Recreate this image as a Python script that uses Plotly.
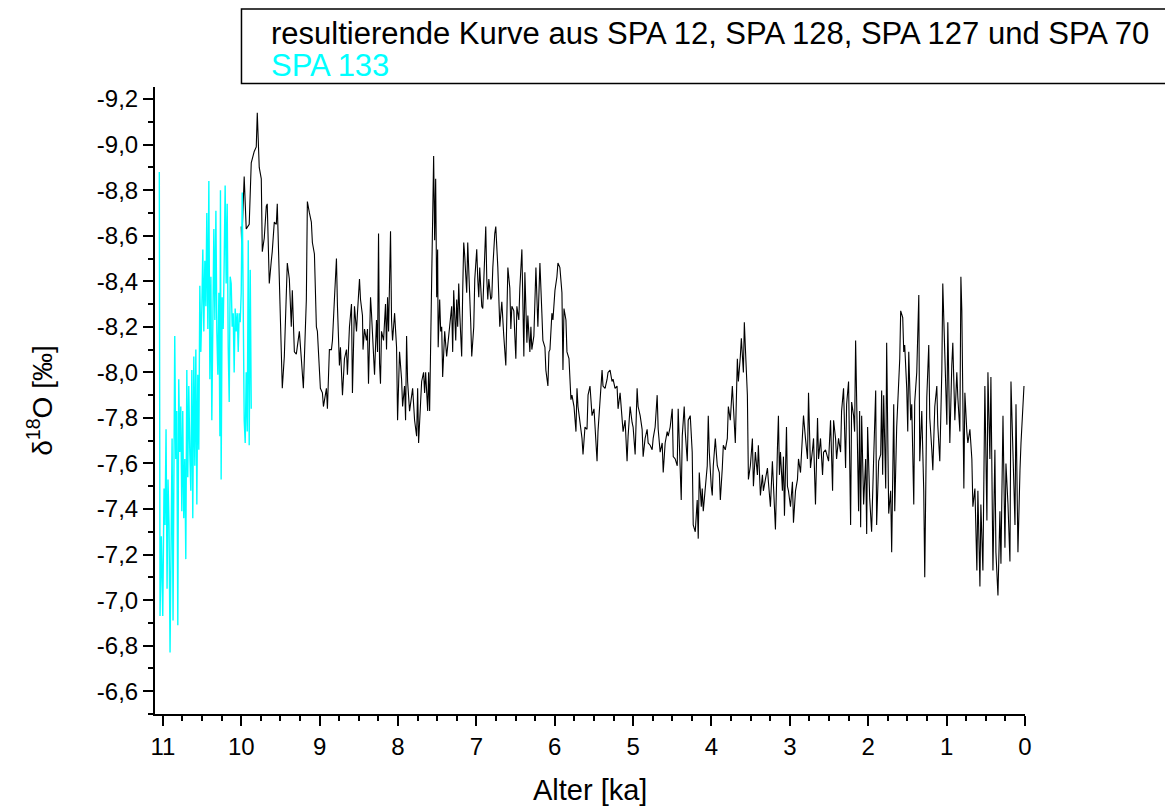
import plotly.graph_objects as go

# ---- resultierende Kurve (SPA 12, SPA 128, SPA 127, SPA 70): age [ka], d18O [permil]
black_age = [
10.000,9.994,9.962,9.936,9.898,9.872,9.834,9.808,9.795,9.770,9.744,9.731,9.706,9.680,9.668,9.642,9.616,9.604,9.578,9.552,
9.540,9.488,9.476,9.450,9.425,9.412,9.386,9.361,9.348,9.322,9.297,9.258,9.233,9.207,9.169,9.156,9.130,9.105,9.092,9.066,
9.041,9.028,8.990,8.964,8.951,8.913,8.900,8.875,8.849,8.836,8.811,8.785,8.772,8.747,8.734,8.708,8.683,8.657,8.645,8.619,
8.593,8.581,8.555,8.529,8.517,8.491,8.478,8.453,8.446,8.427,8.402,8.389,8.376,8.350,8.338,8.312,8.299,8.274,8.261,8.248,
8.235,8.223,8.210,8.184,8.159,8.146,8.133,8.120,8.107,8.095,8.082,8.069,8.043,8.018,8.005,7.980,7.954,7.941,7.916,7.903,
7.890,7.877,7.852,7.826,7.813,7.788,7.762,7.749,7.737,7.711,7.698,7.673,7.660,7.647,7.621,7.609,7.596,
7.570,7.558,7.545,7.532,7.519,7.506,7.494,7.487,7.468,7.455,7.442,7.430,7.404,7.379,7.366,7.340,7.315,7.302,7.289,7.263,
7.251,7.238,7.225,7.212,7.187,7.174,7.161,7.148,7.123,7.110,7.097,7.084,7.072,7.059,7.033,7.020,6.995,6.982,6.969,6.957,
6.931,6.918,6.905,6.880,6.867,6.854,6.841,6.816,6.803,6.790,6.765,6.752,6.726,6.714,6.701,6.675,6.662,6.650,6.624,6.611,
6.598,6.573,6.560,6.547,6.522,6.509,6.496,6.483,6.458,6.445,6.419,6.394,6.381,6.355,6.343,6.317,6.304,6.292,6.266,6.253,
6.240,6.215,6.202,6.189,6.164,6.151,6.125,6.113,6.087,6.074,6.061,6.036,6.023,5.997,5.972,5.959,5.934,5.908,5.895,5.882,
5.857,5.844,5.818,5.793,5.780,5.754,5.729,5.716,5.703,5.678,5.652,5.639,5.614,5.588,5.575,5.550,5.537,5.524,5.499,5.486,
5.460,5.448,5.422,5.396,5.384,5.358,5.332,5.320,5.294,5.269,5.256,5.230,5.205,5.192,5.166,
5.128,5.102,5.077,5.064,5.038,5.013,5.000,4.974,4.949,4.936,4.910,4.885,4.872,4.847,4.821,4.808,4.783,4.757,4.744,4.719,
4.693,4.680,4.655,4.629,4.616,4.591,4.565,4.552,4.527,4.501,4.488,4.463,4.437,4.425,4.412,4.386,4.373,4.348,4.335,4.309,
4.297,4.271,4.246,4.233,4.207,4.182,4.169,4.156,4.130,4.118,4.105,4.079,4.054,4.041,4.028,4.003,3.990,3.977,3.951,3.939,
3.926,3.900,3.887,3.862,3.849,3.824,3.798,3.785,3.760,3.734,3.721,3.696,3.670,3.657,3.632,3.619,3.593,3.581,3.568,3.542,
3.529,3.504,3.478,3.465,3.440,3.414,3.402,3.376,3.350,3.338,3.312,3.286,3.274,3.248,3.223,3.210,3.184,3.159,3.146,3.133,
3.120,3.095,3.082,3.069,3.043,3.031,3.018,2.992,2.967,2.954,2.928,2.903,2.890,2.864,2.839,2.826,2.801,2.775,2.762,2.737,
2.711,2.698,
2.673,2.647,2.634,2.609,2.583,2.570,2.545,2.519,2.506,2.481,2.455,2.442,2.417,2.404,2.379,2.353,2.340,2.315,2.289,2.276,
2.251,2.225,2.212,2.187,2.174,2.161,2.136,2.123,2.110,2.097,2.084,2.059,2.033,2.020,2.008,1.982,1.957,1.944,1.931,1.905,
1.893,1.867,1.841,1.829,1.816,1.803,1.777,1.765,1.739,1.714,1.701,1.675,1.662,1.637,1.611,1.598,1.586,1.560,1.547,1.535,
1.509,1.496,1.483,1.458,1.445,1.419,1.407,1.381,1.355,1.343,1.317,1.292,1.279,1.253,1.228,1.215,1.189,1.176,1.151,1.125,
1.113,1.087,1.061,1.049,1.023,0.997,0.985,0.959,0.934,0.921,0.895,0.870,0.857,0.831,0.818,0.806,0.780,0.767,0.742,0.729,
0.703,0.678,0.665,0.639,0.614,0.601,0.575,0.563,0.537,0.512,0.486,0.473,0.448,0.435,0.409,0.384,0.371,0.345,0.320,0.307,
0.281,0.256,0.243,0.217,0.192,0.179,0.153,0.128,0.115,0.090,0.064,0.051,0.013,
]
black_d18o = [
-8.64,-8.56,-8.86,-8.63,-8.65,-8.92,-8.97,-8.99,-9.14,-8.90,-8.85,-8.53,-8.59,-8.73,-8.74,-8.39,-8.49,-8.53,-8.66,-8.65,
-8.74,-8.09,-7.93,-8.07,-8.41,-8.48,-8.41,-8.20,-8.36,-8.09,-8.08,-8.18,-8.06,-7.93,-8.32,-8.75,-8.70,-8.66,-8.57,-8.52,
-8.20,-8.18,-7.93,-7.91,-7.85,-7.93,-7.84,-8.10,-8.10,-8.14,-8.32,-8.50,-8.29,-8.03,-8.11,-7.90,-8.06,-8.10,-7.99,-8.20,
-8.30,-7.91,-8.29,-8.18,-8.26,-8.41,-8.32,-8.25,-8.10,-8.19,-8.14,-8.19,-7.95,-8.33,-8.26,-8.11,-7.99,-8.23,-8.09,-8.61,
-8.04,-7.95,-8.18,-8.14,-8.30,-8.10,-8.33,-8.18,-8.44,-8.62,-8.23,-8.14,-8.26,-8.11,-7.79,-8.09,-7.97,-7.85,-7.94,-7.79,
-8.16,-7.96,-7.83,-7.91,-7.93,-7.79,-7.72,-7.93,-7.69,-7.87,-7.96,-8.00,-7.91,-8.00,-7.83,-8.00,-7.83,
-8.41,-8.60,-8.95,-8.58,-8.85,-8.33,-8.54,-8.11,-8.32,-8.18,-8.20,-7.98,-8.18,-8.07,-8.11,-8.20,-8.29,-8.09,-8.36,-8.14,
-8.32,-8.20,-8.39,-8.26,-8.07,-8.36,-8.57,-8.51,-8.35,-8.57,-8.41,-8.31,-8.22,-8.07,-8.20,-8.41,-8.54,-8.41,-8.33,-8.46,
-8.29,-8.28,-8.41,-8.64,-8.41,-8.32,-8.41,-8.32,-8.33,-8.46,-8.61,-8.64,-8.46,-8.26,-8.20,-8.31,-8.22,-8.16,-8.03,-8.26,
-8.46,-8.37,-8.19,-8.29,-8.27,-8.16,-8.06,-8.29,-8.23,-8.37,-8.54,-8.07,-8.44,-8.13,-8.25,-8.09,-8.20,-8.10,-8.16,-8.31,
-8.46,-8.20,-8.35,-8.48,-8.26,-8.14,-8.11,-8.01,-7.94,-8.09,-8.10,-8.26,-8.23,-8.36,-8.42,-8.48,-8.46,-8.35,-8.01,-8.28,
-8.23,-8.09,-8.06,-7.88,-7.90,-7.85,-7.74,-7.93,-7.85,-7.79,-7.71,-7.64,-7.76,-7.75,-7.90,-7.94,-7.85,-7.81,-7.84,-7.75,
-7.61,-7.74,-7.88,-8.01,-7.94,-7.93,-7.97,-8.00,-8.01,-7.96,-7.97,-7.93,-7.94,-7.84,-7.91,
-7.74,-7.79,-7.61,-7.72,-7.85,-7.78,-7.76,-7.64,-7.93,-7.85,-7.81,-7.75,-7.63,-7.71,-7.75,-7.69,-7.68,-7.66,-7.71,-7.76,
-7.90,-7.75,-7.65,-7.69,-7.56,-7.69,-7.74,-7.72,-7.76,-7.84,-7.63,-7.62,-7.59,-7.84,-7.72,-7.44,-7.72,-7.85,-7.74,-7.61,
-7.79,-7.81,-7.65,-7.33,-7.30,-7.44,-7.27,-7.56,-7.41,-7.49,-7.39,-7.50,-7.59,-7.81,-7.65,-7.50,-7.46,-7.59,-7.71,-7.65,
-7.59,-7.56,-7.44,-7.58,-7.68,-7.66,-7.71,-7.85,-7.79,-7.94,-7.83,-7.69,-8.06,-7.96,-8.07,-8.15,-8.00,-8.22,-8.11,-7.90,
-7.53,-7.59,-7.71,-7.50,-7.65,-7.55,-7.68,-7.46,-7.55,-7.48,-7.53,-7.58,-7.52,-7.41,-7.61,-7.52,-7.31,-7.66,-7.81,-7.55,
-7.65,-7.48,-7.63,-7.37,-7.76,-7.50,-7.48,-7.41,-7.52,-7.34,-7.48,-7.53,-7.62,-7.56,-7.76,-7.81,-7.71,-7.62,-7.91,-7.58,
-7.66,-7.71,
-7.42,-7.80,-7.62,-7.71,-7.55,-7.65,-7.66,-7.62,-7.61,-7.79,-7.48,-7.79,-7.71,-7.62,-7.71,-7.65,-7.83,-7.93,-7.58,-7.86,
-7.96,-7.33,-7.87,-7.81,-7.74,-8.14,-7.71,-7.39,-7.83,-7.32,-7.81,-7.42,-7.62,-7.29,-7.76,-7.45,-7.30,-7.50,-7.62,-7.92,
-7.33,-7.61,-7.64,-7.92,-7.55,-7.90,-7.49,-8.13,-7.38,-7.48,-7.21,-7.86,-7.39,-7.76,-7.93,-8.06,-8.27,-8.24,-8.09,-8.12,
-7.93,-7.74,-8.09,-7.79,-7.86,-7.42,-7.87,-8.00,-8.34,-7.61,-7.83,-7.48,-7.10,-7.89,-8.12,-7.80,-7.66,-7.57,-7.85,-7.94,
-7.77,-7.61,-8.01,-8.39,-8.08,-7.77,-8.22,-7.69,-8.03,-8.13,-7.79,-8.00,-7.89,-7.74,-8.42,-8.27,-7.49,-7.91,-7.74,-7.69,
-7.75,-7.62,-7.41,-7.49,-7.13,-7.48,-7.06,-7.42,-7.13,-7.94,-7.35,-8.00,-7.62,-7.98,-7.13,-7.66,-7.21,-7.02,-7.39,-7.16,
-7.81,-7.23,-7.60,-7.42,-7.17,-7.96,-7.64,-7.33,-7.86,-7.21,-7.57,-7.69,-7.94,
]

# ---- SPA 133
cyan_age = [
11.045,11.036,11.019,11.001,10.985,10.972,10.959,10.946,10.934,10.921,10.908,10.895,10.882,10.870,10.857,10.848,10.835,10.822,
10.809,10.797,10.784,10.771,10.758,10.746,10.733,10.720,10.707,10.694,10.682,10.669,10.656,10.643,10.630,10.618,10.605,10.592,
10.579,10.566,10.554,10.541,10.528,10.515,10.502,10.490,10.477,10.464,10.451,10.439,10.426,10.413,10.400,10.387,10.375,10.362,
10.349,10.336,10.323,10.311,10.298,10.285,10.272,10.265,10.256,10.243,10.230,10.217,10.205,10.192,10.179,10.166,10.153,10.141,
10.128,10.115,10.102,10.090,10.077,10.064,10.051,10.038,10.026,10.013,10.000,9.987,9.974,9.962,9.949,9.936,9.923,9.910,
9.898,9.885,9.872,
]
cyan_d18o = [
-8.88,-6.93,-7.28,-6.93,-7.49,-7.33,-7.75,-7.05,-7.53,-7.33,-6.77,-7.24,-7.71,-6.91,-7.97,-8.16,-7.62,-7.83,
-6.89,-7.97,-7.65,-7.85,-7.39,-7.83,-7.36,-7.62,-7.18,-8.01,-7.54,-7.94,-7.65,-7.48,-8.01,-7.36,-8.07,-7.59,
-8.10,-7.42,-7.99,-7.66,-8.38,-8.09,-8.29,-8.54,-8.18,-8.49,-8.29,-8.70,-8.19,-8.84,-7.97,-8.42,-7.79,-8.31,
-8.63,-8.23,-8.71,-8.18,-7.99,-8.35,-7.72,-8.80,-7.53,-8.33,-8.19,-8.49,-8.82,-8.39,-8.74,-8.11,-7.87,-8.42,
-8.39,-8.20,-8.26,-8.00,-8.28,-8.18,-8.26,-8.09,-8.26,-8.22,-8.35,-8.79,-8.15,-7.79,-7.69,-8.00,-7.74,-8.58,
-7.68,-8.45,-7.84,
]

x_ticks = [11, 10, 9, 8, 7, 6, 5, 4, 3, 2, 1, 0]
y_ticks = [-9.2, -9.0, -8.8, -8.6, -8.4, -8.2, -8.0, -7.8, -7.6, -7.4, -7.2, -7.0, -6.8, -6.6]
y_tick_labels = ["-9,2", "-9,0", "-8,8", "-8,6", "-8,4", "-8,2", "-8,0", "-7,8", "-7,6", "-7,4",
                 "-7,2", "-7,0", "-6,8", "-6,6"]
legend_labels = ["resultierende Kurve aus SPA 12, SPA 128, SPA 127 und SPA 70", "SPA 133"]
series_colors = ["#000000", "#00FFFF"]

FONT = "Liberation Sans, Arial, sans-serif"

fig = go.Figure()
fig.add_trace(go.Scatter(x=black_age, y=black_d18o, mode="lines",
                         line=dict(color=series_colors[0], width=1.1),
                         name=legend_labels[0], showlegend=False))
fig.add_trace(go.Scatter(x=cyan_age, y=cyan_d18o, mode="lines",
                         line=dict(color=series_colors[1], width=1.4),
                         name=legend_labels[1], showlegend=False))

axis_common = dict(showgrid=False, zeroline=False, showline=True, linecolor="black", linewidth=2,
                   ticks="outside", ticklen=10, tickwidth=2, tickcolor="black",
                   tickfont=dict(family=FONT, size=24, color="black"))

fig.update_xaxes(range=[11.1, 0], tickmode="array", tickvals=x_ticks,
                 ticktext=[str(t) for t in x_ticks],
                 minor=dict(dtick=0.25, ticks="outside", ticklen=5, tickwidth=2, tickcolor="black"),
                 **axis_common)
fig.update_yaxes(range=[-6.5, -9.253], tickmode="array", tickvals=y_ticks, ticktext=y_tick_labels,
                 minor=dict(tickmode="linear", tick0=-9.2, dtick=0.1, ticks="outside", ticklen=5,
                            tickwidth=2, tickcolor="black"),
                 **axis_common)

# The page body has an 8px margin, so the figure is sized/offset to compensate.
fig.update_layout(
    width=1165, height=802,
    margin=dict(l=147, r=148, t=79, b=96),
    paper_bgcolor="white", plot_bgcolor="white",
    separators=",.",
    font=dict(family=FONT, color="black"),
    shapes=[dict(type="rect", xref="paper", yref="paper",
                 x0=0.0994, x1=1.1675, y0=1.0056, y1=1.1245,
                 line=dict(color="black", width=1.5), layer="above")],
    annotations=[
        dict(text=legend_labels[0], xref="paper", yref="paper", x=0.1305, y=1.0861,
             xanchor="left", yanchor="middle", showarrow=False,
             font=dict(family=FONT, size=31, color=series_colors[0])),
        dict(text=legend_labels[1], xref="paper", yref="paper", x=0.1305, y=1.0335,
             xanchor="left", yanchor="middle", showarrow=False,
             font=dict(family=FONT, size=31, color=series_colors[1])),
        dict(text="Alter [ka]", xref="paper", yref="paper", x=0.5, y=-0.121,
             xanchor="center", yanchor="middle", showarrow=False,
             font=dict(family=FONT, size=29, color="black")),
        dict(text="δ<sup>18</sup>O [‰]", xref="paper", yref="paper", x=-0.133, y=0.50,
             xanchor="center", yanchor="middle", showarrow=False, textangle=-90,
             font=dict(family=FONT, size=28, color="black")),
    ],
)

fig.write_html("out.html")
